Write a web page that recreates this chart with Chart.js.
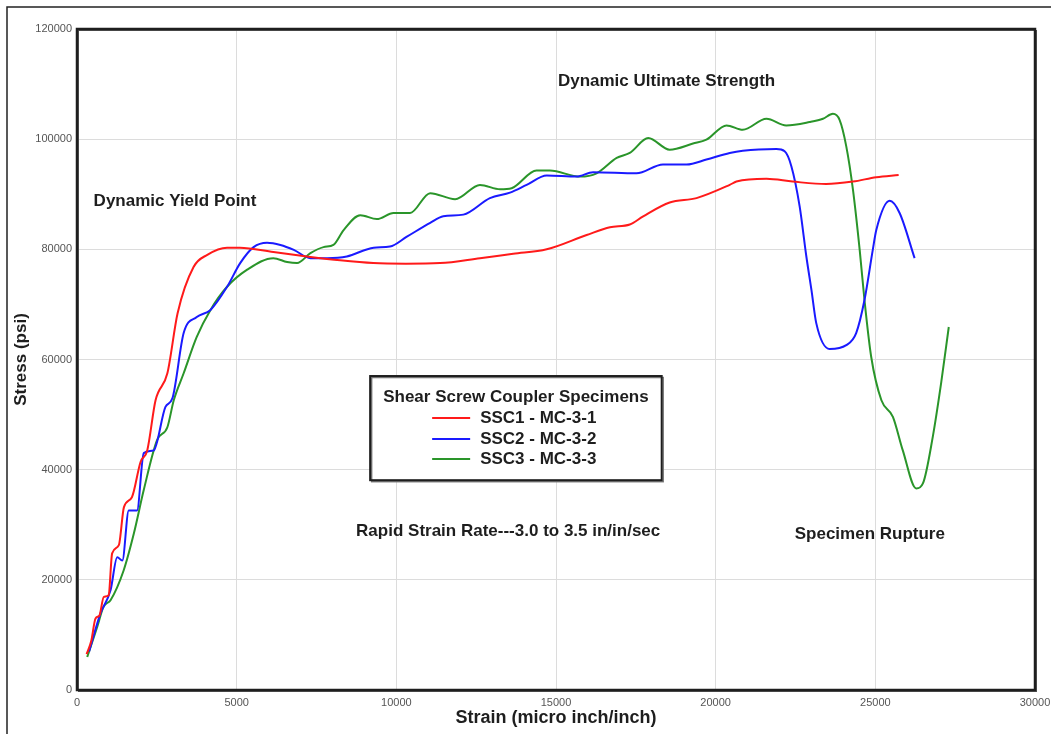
<!DOCTYPE html>
<html>
<head>
<meta charset="utf-8">
<script src="https://cdn.jsdelivr.net/npm/chart.js"></script>
<style>
  html, body { margin: 0; padding: 0; background: #fff; }
  #wrap { width: 1051px; height: 734px; position: relative; }
</style>
</head>
<body>
<div id="wrap"><canvas id="stressStrain"></canvas></div>
<script>
// Strain (micro inch/inch) and stress (psi)
const ssc1Strain = [300, 450, 580, 700, 840, 990, 1100, 1310, 1470, 1720, 1990, 2200, 2460, 2830, 3150, 3650, 4080, 4700, 5100, 6150, 7200, 8240, 9280, 10300, 11370, 12620, 13660, 14710, 15960, 16690, 17310, 17730, 18560, 19400, 20440, 20650, 21590, 22410, 23460, 24300, 25030, 25730];
const ssc1Stress = [6500, 9000, 13000, 13500, 16900, 17200, 24800, 26300, 33200, 35000, 41400, 43500, 52600, 57500, 68400, 76800, 79000, 80300, 80300, 79500, 78700, 78000, 77500, 77400, 77500, 78400, 79200, 80000, 82600, 84000, 84500, 86000, 88500, 89300, 91700, 92300, 92800, 92300, 91850, 92300, 93100, 93500];

const ssc2Strain = [380, 735, 1050, 1260, 1420, 1620, 1880, 2090, 2400, 2770, 2990, 3340, 3750, 4180, 4700, 5110, 5530, 5950, 6370, 6790, 7310, 7830, 8450, 9290, 9800, 10330, 11060, 11470, 12100, 12930, 13560, 14080, 14710, 15650, 16160, 17520, 18350, 19090, 19710, 20440, 20850, 21900, 22160, 22370, 22630, 22840, 23000, 23150, 23570, 24090, 24400, 24660, 24920, 25030, 25450, 25760, 26230];
const ssc2Stress = [7000, 13900, 18100, 24100, 23500, 32600, 32600, 43000, 43500, 51400, 53000, 64800, 67700, 69000, 73200, 77500, 80400, 81200, 80800, 79900, 78400, 78400, 78700, 80300, 80500, 82300, 84800, 86000, 86300, 89300, 90300, 91700, 93400, 93200, 94000, 93800, 95400, 95400, 96300, 97500, 97900, 98200, 97800, 95100, 87800, 78700, 72600, 66600, 61900, 62600, 64800, 70800, 79900, 83500, 88800, 86600, 78400];

const ssc3Strain = [320, 630, 830, 1050, 1460, 1780, 2090, 2510, 2830, 3030, 3340, 3750, 4180, 4700, 5330, 6150, 6580, 6890, 7310, 7720, 8030, 8350, 8870, 9390, 9910, 10430, 11060, 11840, 12620, 13250, 13610, 14390, 14810, 15750, 16270, 16900, 17310, 17890, 18560, 19290, 19710, 20340, 20850, 21590, 22210, 22940, 23360, 23670, 23880, 24090, 24300, 24510, 24660, 24870, 25190, 25550, 25860, 26280, 26490, 26800, 27060, 27300];
const ssc3Stress = [6000, 11400, 15100, 16300, 21700, 28400, 36300, 45400, 47700, 52600, 57500, 64100, 69000, 73200, 76300, 78400, 77700, 77500, 79300, 80400, 80800, 83500, 86200, 85500, 86600, 86600, 90200, 89100, 91700, 90900, 91100, 94300, 94300, 93200, 93800, 96600, 97500, 100200, 98100, 99200, 99900, 102500, 101700, 103700, 102500, 103100, 103700, 104600, 103500, 98700, 90800, 79900, 70800, 60500, 52600, 49600, 43500, 36600, 37500, 46000, 55700, 65900];

const seriesNames = ["SSC1 - MC-3-1", "SSC2 - MC-3-2", "SSC3 - MC-3-3"];
const seriesColors = ["#ff1a1a", "#1a1aff", "#2a952a"];
const legendTitle = "Shear Screw Coupler Specimens";

// Notes placed in data units: [text, strain, stress]
const notes = [
  ["Dynamic Yield Point", 520, 88800],
  ["Dynamic Ultimate Strength", 15060, 110450],
  ["Rapid Strain Rate---3.0 to 3.5 in/in/sec", 8740, 28850],
  ["Specimen Rupture", 22475, 28270]
];

function toPoints(xs, ys) {
  return xs.map((x, i) => ({ x: x, y: ys[i] }));
}

const TEXT = "#1e1e1e";
const FONT = "Arial, 'Liberation Sans', sans-serif";

const decorations = {
  id: "decorations",
  beforeDraw(chart) {
    const c = chart.ctx;
    c.save();
    // outer frame (top and left edges only, like the cropped original)
    c.strokeStyle = "#222";
    c.lineWidth = 1.5;
    c.beginPath();
    c.moveTo(7, chart.height);
    c.lineTo(7, 7);
    c.lineTo(chart.width, 7);
    c.stroke();
    c.restore();
  },
  beforeDatasetsDraw(chart) {
    const c = chart.ctx;
    const a = chart.chartArea;
    c.save();
    c.strokeStyle = "#555";
    c.lineWidth = 1;
    c.strokeRect(a.left + 1.5, a.top + 1.5, a.right - a.left, a.bottom - a.top);
    c.strokeStyle = "#1e1e1e";
    c.lineWidth = 2.5;
    c.strokeRect(a.left, a.top, a.right - a.left, a.bottom - a.top);
    c.restore();
  },
  afterDraw(chart) {
    const c = chart.ctx;
    const xs = chart.scales.x;
    const ys = chart.scales.y;
    c.save();
    c.fillStyle = TEXT;
    c.font = "bold 17px " + FONT;
    c.textBaseline = "middle";
    c.textAlign = "left";
    notes.forEach(([t, x, y]) => {
      c.fillText(t, xs.getPixelForValue(x), ys.getPixelForValue(y));
    });

    // legend box
    const L = xs.getPixelForValue(9180);
    const R = xs.getPixelForValue(18310);
    const T = ys.getPixelForValue(57000);
    const B = ys.getPixelForValue(38090);
    c.fillStyle = "#fff";
    c.fillRect(L, T, R - L, B - T);
    c.strokeStyle = "#777";
    c.lineWidth = 1.5;
    c.strokeRect(L + 1.5, T + 1.5, R - L, B - T);
    c.strokeStyle = "#1e1e1e";
    c.lineWidth = 2;
    c.strokeRect(L, T, R - L, B - T);

    c.fillStyle = TEXT;
    c.textAlign = "center";
    c.fillText(legendTitle, (L + R) / 2, T + 21);
    c.textAlign = "left";
    const rowY = [T + 42, T + 63, T + 83];
    chart.data.datasets.forEach((ds, i) => {
      c.strokeStyle = ds.borderColor;
      c.lineWidth = 2;
      c.beginPath();
      c.moveTo(L + 62, rowY[i]);
      c.lineTo(L + 100, rowY[i]);
      c.stroke();
      c.fillStyle = TEXT;
      c.fillText(ds.label, L + 110, rowY[i]);
    });
    c.restore();
  }
};

const tickFont = { family: FONT, size: 11 };

new Chart(document.getElementById("stressStrain"), {
  type: "line",
  data: {
    datasets: [
      { label: seriesNames[0], data: toPoints(ssc1Strain, ssc1Stress), borderColor: seriesColors[0] },
      { label: seriesNames[1], data: toPoints(ssc2Strain, ssc2Stress), borderColor: seriesColors[1] },
      { label: seriesNames[2], data: toPoints(ssc3Strain, ssc3Stress), borderColor: seriesColors[2] }
    ]
  },
  options: {
    responsive: true,
    maintainAspectRatio: false,
    animation: false,
    parsing: false,
    layout: { padding: { top: 29, right: 16, left: 0, bottom: 0 } },
    elements: {
      point: { radius: 0 },
      line: { borderWidth: 2, cubicInterpolationMode: "monotone", fill: false }
    },
    plugins: {
      legend: { display: false },
      tooltip: { enabled: false }
    },
    scales: {
      x: {
        type: "linear",
        min: 0,
        max: 30000,
        afterFit: (s) => { s.height = 44; s.paddingLeft = 0; s.paddingRight = 0; },
        ticks: {
          stepSize: 5000,
          color: "#555",
          font: tickFont,
          padding: 6,
          maxRotation: 0,
          callback: (v) => String(v)
        },
        grid: { color: "#dcdcdc", drawTicks: false },
        border: { display: false },
        title: {
          display: true,
          text: "Strain (micro inch/inch)",
          color: TEXT,
          font: { family: FONT, size: 18, weight: "bold" },
          padding: { top: 0, bottom: 5 }
        }
      },
      y: {
        min: 0,
        max: 120000,
        afterFit: (s) => { s.width = 77; s.paddingTop = 0; s.paddingBottom = 0; },
        ticks: {
          stepSize: 20000,
          color: "#555",
          font: tickFont,
          padding: 5,
          callback: (v) => String(v)
        },
        grid: { color: "#dcdcdc", drawTicks: false },
        border: { display: false },
        title: {
          display: true,
          text: "Stress (psi)",
          color: TEXT,
          font: { family: FONT, size: 17, weight: "bold" },
          padding: { top: 11, bottom: 0 }
        }
      }
    }
  },
  plugins: [decorations]
});
</script>
</body>
</html>
